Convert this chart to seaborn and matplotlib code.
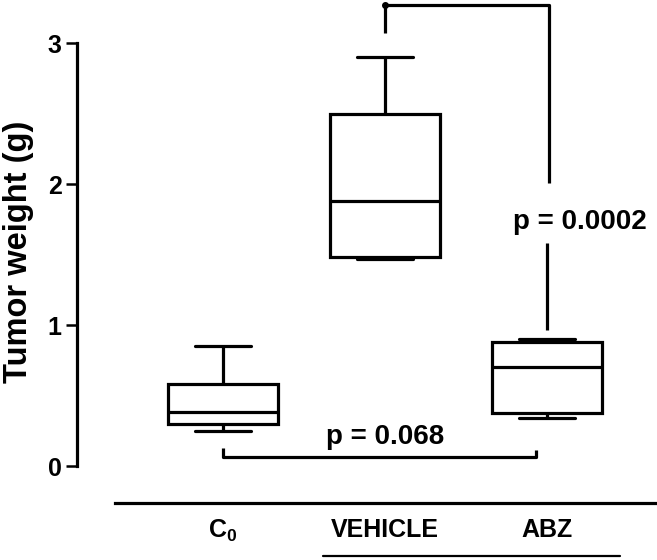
import matplotlib
matplotlib.use("Agg")
import matplotlib.pyplot as plt
import seaborn as sns
import pandas as pd

# ---- data (five-number summaries) ----
groups = ["C0", "VEHICLE", "ABZ"]
tick_labels = ["C$_0$", "VEHICLE", "ABZ"]
c0_vals = [0.25, 0.30, 0.38, 0.58, 0.85]
vehicle_vals = [1.47, 1.48, 1.88, 2.50, 2.90]
abz_vals = [0.34, 0.375, 0.70, 0.877, 0.90]
yticks = [0, 1, 2, 3]
p_low = "p = 0.068"
p_high = "p = 0.0002"
ylabel = "Tumor weight (g)"

sns.set_theme(style="ticks")
plt.rcParams["font.family"] = ["Liberation Sans", "DejaVu Sans"]
plt.rcParams["font.weight"] = "bold"
plt.rcParams["mathtext.fontset"] = "custom"
plt.rcParams["mathtext.rm"] = "Liberation Sans:bold"
plt.rcParams["mathtext.it"] = "Liberation Sans:bold"
plt.rcParams["mathtext.bf"] = "Liberation Sans:bold"
for k in ["text.color", "axes.labelcolor", "xtick.color", "ytick.color", "axes.edgecolor"]:
    plt.rcParams[k] = "black"

df = pd.DataFrame({
    "group": [groups[0]] * len(c0_vals) + [groups[1]] * len(vehicle_vals) + [groups[2]] * len(abz_vals),
    "weight": c0_vals + vehicle_vals + abz_vals,
})

W, H = 657, 560
fig = plt.figure(figsize=(W / 100, H / 100), dpi=100)
ax = fig.add_axes([77 / W, 57 / H, 580 / W, 503 / H])

LW = 2.3
sns.boxplot(data=df, x="group", y="weight", order=groups, whis=(0, 100),
            width=0.68, color="white", linecolor="black", linewidth=LW,
            fliersize=0, ax=ax)

ax.set_xlim(-0.901, 2.679)
ax.set_ylim(-0.2624, 3.305)

for s in ["top", "right"]:
    ax.spines[s].set_visible(False)
ax.spines["left"].set_bounds(0, 3)
ax.spines["left"].set_linewidth(LW)
ax.spines["bottom"].set_bounds(-0.667, 2.667)
ax.spines["bottom"].set_linewidth(LW)
ax.spines["left"].set_color("black")
ax.spines["bottom"].set_color("black")

ax.set_yticks(yticks)
ax.set_yticklabels([str(v) for v in yticks], fontsize=18, fontweight="bold", color="black")
ax.tick_params(axis="y", length=8, width=1.8, pad=3, color="black")
ax.set_xticks(range(len(groups)))
ax.set_xticklabels(tick_labels, fontsize=18, fontweight="bold", color="black")
ax.tick_params(axis="x", length=0, pad=11)
ax.set_xlabel("")
ax.set_ylabel(ylabel, fontsize=23.5, fontweight="bold", color="black")
ax.yaxis.set_label_coords(-0.074, 0.5)

kw = dict(color="black", lw=LW, solid_joinstyle="round", solid_capstyle="butt", clip_on=False)
# bracket C0 - ABZ
ax.plot([0.0, 0.0, 1.93, 1.93], [0.128, 0.064, 0.064, 0.11], **kw)
ax.text(1.0, 0.206, p_low, ha="center", va="center", fontsize=20, fontweight="bold", color="black")
# bracket VEHICLE - ABZ
ax.plot([1.0, 1.0, 2.01, 2.01], [3.07, 3.27, 3.27, 2.007], **kw)
ax.plot([1.0], [3.27], marker="o", ms=4, color="black", clip_on=False)
ax.plot([2.0, 2.0], [1.58, 0.965], **kw)
ax.text(2.20, 1.73, p_high, ha="center", va="center", fontsize=20, fontweight="bold", color="black")

# lower line under VEHICLE / ABZ
ax.plot([0.617, 2.45], [-0.638, -0.638], color="black", lw=1.6, clip_on=False)

fig.savefig("out.png", dpi=100)
